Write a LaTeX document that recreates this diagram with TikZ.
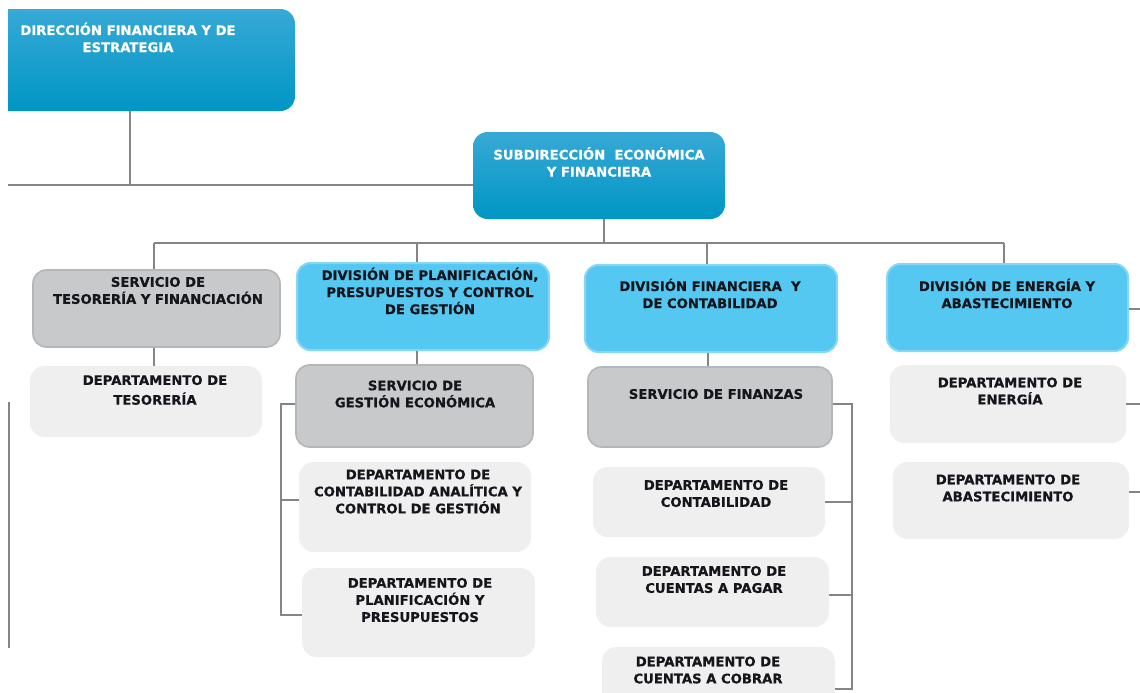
\documentclass[tikz,border=0pt]{standalone}
\usepackage{fontspec}
\setmainfont[BoldFeatures={FakeBold=0.6}]{DejaVu Sans}
\usetikzlibrary{fit}
\definecolor{blueA}{HTML}{37A9D6}
\definecolor{blueB}{HTML}{0096C4}
\definecolor{divblue}{HTML}{55C8F2}
\definecolor{divedge}{HTML}{86D7F5}
\definecolor{servgray}{HTML}{C8C9CA}
\definecolor{servedge}{HTML}{B5B6B7}
\definecolor{deptgray}{HTML}{EFEFEF}
\definecolor{linegray}{HTML}{858585}
\definecolor{txtdark}{HTML}{15151C}
\begin{document}
\begin{tikzpicture}[x=0.75pt,y=-0.75pt,
 topbox/.style={inner sep=0pt, rounded corners=11pt, top color=blueA, bottom color=blueB, draw=none},
 divbox/.style={inner sep=0pt, rounded corners=10pt, fill=divblue, draw=divedge, line width=1.5pt},
 servbox/.style={inner sep=0pt, rounded corners=10pt, fill=servgray, draw=servedge, line width=1.2pt},
 deptbox/.style={inner sep=0pt, rounded corners=11pt, fill=deptgray, draw=none},
 lbl/.style={font=\bfseries\fontsize{9.9}{12.8}\selectfont, align=center, inner sep=0pt, text=txtdark},
 wlbl/.style={lbl, text=white},
 conn/.style={draw=linegray, line width=1.2pt},
]
\useasboundingbox (0,0) rectangle (1140,693);
\clip (0,0) rectangle (1140,693);
\begin{scope}
\clip (8,0) rectangle (1140,693);
\node[topbox, fit={(-30,9) (295,111)}] (dir) {};
\end{scope}
\node[topbox, fit={(473,132) (725,219)}] (sub) {};
\node[servbox, fit={(33,270) (280,347)}] (stes) {};
\node[deptbox, fit={(30,366) (262,437)}] (dtes) {};
\node[divbox, fit={(297,263) (549,350)}] (dplan) {};
\node[servbox, fit={(296,365) (533,447)}] (sgest) {};
\node[deptbox, fit={(299,462) (531,552)}] (dca) {};
\node[deptbox, fit={(302,568) (535,657)}] (dpp) {};
\node[divbox, fit={(585,265) (837,352)}] (dfin) {};
\node[servbox, fit={(588,367) (832,447)}] (sfin) {};
\node[deptbox, fit={(593,467) (825,537)}] (dcon) {};
\node[deptbox, fit={(596,557) (829,627)}] (dpag) {};
\node[deptbox, fit={(602,647) (835,720)}] (dcob) {};
\node[divbox, fit={(887,264) (1128,351)}] (dene) {};
\node[deptbox, fit={(890,365) (1126,443)}] (dener) {};
\node[deptbox, fit={(893,462) (1129,539)}] (dabas) {};

\node[wlbl] (dirT) at (128,37.5) {DIRECCIÓN FINANCIERA Y DE\\ESTRATEGIA};
\node[wlbl] (subT) at (599,162) {SUBDIRECCIÓN\ \ ECONÓMICA\\Y FINANCIERA};
\node[lbl] (stesT) at (158,290.5) {SERVICIO DE\\TESORERÍA Y FINANCIACIÓN};
\node[lbl] (dtesT) at (155,390) {DEPARTAMENTO DE\\[2pt]TESORERÍA};
\node[lbl] (dplanT) at (430,291) {DIVISIÓN DE PLANIFICACIÓN,\\PRESUPUESTOS Y CONTROL\\DE GESTIÓN};
\node[lbl] (sgestT) at (415,394) {SERVICIO DE\\GESTIÓN ECONÓMICA};
\node[lbl] (dcaT) at (418,491.5) {DEPARTAMENTO DE\\CONTABILIDAD ANALÍTICA Y\\CONTROL DE GESTIÓN};
\node[lbl] (dppT) at (420,600) {DEPARTAMENTO DE\\PLANIFICACIÓN Y\\PRESUPUESTOS};
\node[lbl] (dfinT) at (710,293.5) {DIVISIÓN FINANCIERA\ \ Y\\DE CONTABILIDAD};
\node[lbl] (sfinT) at (716,394) {SERVICIO DE FINANZAS};
\node[lbl] (dconT) at (716,493.5) {DEPARTAMENTO DE\\CONTABILIDAD};
\node[lbl] (dpagT) at (714,579.5) {DEPARTAMENTO DE\\CUENTAS A PAGAR};
\node[lbl] (dcobT) at (708,670) {DEPARTAMENTO DE\\CUENTAS A COBRAR};
\node[lbl] (deneT) at (1007,293.5) {DIVISIÓN DE ENERGÍA Y\\ABASTECIMIENTO};
\node[lbl] (denerT) at (1010,391) {DEPARTAMENTO DE\\ENERGÍA};
\node[lbl] (dabasT) at (1008,488) {DEPARTAMENTO DE\\ABASTECIMIENTO};

\coordinate (b1) at (130,185);
\coordinate (lft) at (8,185);
\coordinate (b2S) at (604,243);
\coordinate (b2L) at (154,243);
\coordinate (b2R) at (1004,243);
\coordinate (lv1) at (9,402);
\coordinate (lv2) at (9,648);
\coordinate (pl) at (281,404);
\coordinate (pr) at (852,404);
\coordinate (rim) at (1140,0);

\draw[conn] (dir.south -| b1) -- (b1);
\draw[conn] (lft) -- (sub.west |- b1);
\draw[conn] (sub.south -| b2S) -- (b2S);
\draw[conn] (b2L) -- (b2R);
\draw[conn] (b2L) -- (stes.north -| b2L);
\draw[conn] (b2L -| 417,0) -- (dplan.north -| 417,0);
\draw[conn] (b2L -| 707,0) -- (dfin.north -| 707,0);
\draw[conn] (b2R) -- (dene.north -| b2R);
\draw[conn] (stes.south -| b2L) -- (dtes.north -| b2L);
\draw[conn] (dplan.south -| 417,0) -- (sgest.north -| 417,0);
\draw[conn] (dfin.south -| 708,0) -- (sfin.north -| 708,0);
\draw[conn] (sgest.west |- pl) -- (pl) |- (dpp.west |- 0,615);
\draw[conn] (pl |- 0,500) -- (dca.west |- 0,500);
\draw[conn] (sfin.east |- pr) -- (pr) |- (dcob.east |- 0,689);
\draw[conn] (pr |- 0,502) -- (dcon.east |- 0,502);
\draw[conn] (pr |- 0,595) -- (dpag.east |- 0,595);
\draw[conn] (dene.east |- 0,309) -- (rim |- 0,309);
\draw[conn] (dener.east |- 0,404) -- (rim |- 0,404);
\draw[conn] (dabas.east |- 0,492) -- (rim |- 0,492);
\draw[conn] (lv1) -- (lv2);
\end{tikzpicture}
\end{document}
